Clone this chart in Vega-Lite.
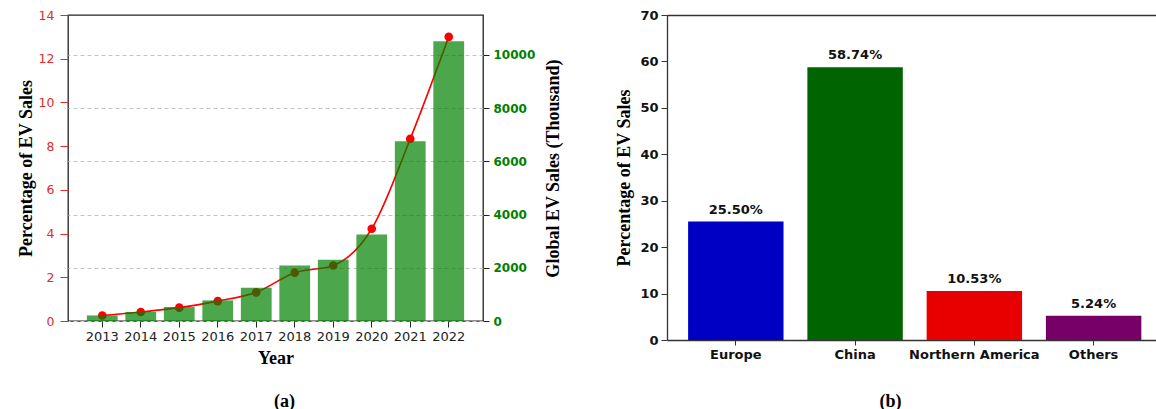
{
  "$schema": "https://vega.github.io/schema/vega-lite/v6.json",
  "background": "white",
  "padding": {"left": 16, "top": 8, "right": 0, "bottom": 0},
  "spacing": 51,
  "config": {
    "view": {"stroke": "#222222", "strokeWidth": 1.3},
    "axis": {"labelFont": "DejaVu Sans", "titleFont": "Liberation Serif", "titleFontWeight": "bold", "titleFontSize": 18, "titleColor": "black", "domain": false, "grid": false},
    "title": {"font": "Liberation Serif", "fontWeight": "bold", "fontSize": 18, "color": "black"}
  },
  "datasets": {
    "years": [
      {"Year": "2013", "Pct": 0.25, "Sales": 210},
      {"Year": "2014", "Pct": 0.41, "Sales": 340},
      {"Year": "2015", "Pct": 0.61, "Sales": 525},
      {"Year": "2016", "Pct": 0.91, "Sales": 775},
      {"Year": "2017", "Pct": 1.31, "Sales": 1250},
      {"Year": "2018", "Pct": 2.21, "Sales": 2090},
      {"Year": "2019", "Pct": 2.54, "Sales": 2300},
      {"Year": "2020", "Pct": 4.22, "Sales": 3250},
      {"Year": "2021", "Pct": 8.33, "Sales": 6760},
      {"Year": "2022", "Pct": 13.0, "Sales": 10515}
    ],
    "regions": [
      {"Region": "Europe", "Share": 25.50, "Label": "25.50%"},
      {"Region": "China", "Share": 58.74, "Label": "58.74%"},
      {"Region": "Northern America", "Share": 10.53, "Label": "10.53%"},
      {"Region": "Others", "Share": 5.24, "Label": "5.24%"}
    ]
  },
  "hconcat": [
    {
      "width": 415,
      "height": 306,
      "data": {"name": "years"},
      "title": {"text": "(a)", "orient": "bottom", "anchor": "middle", "dx": 9, "offset": 26},
      "layer": [
        {
          "mark": {"type": "line", "color": "red", "strokeWidth": 1.6, "interpolate": "monotone", "point": {"filled": true, "color": "red", "size": 75}},
          "encoding": {
            "x": {"field": "Year", "type": "ordinal", "scale": {"paddingInner": 0.2, "paddingOuter": 0.49},
                  "axis": {"title": "Year", "labelAngle": 0, "labelFontSize": 13, "labelColor": "#222222", "tickSize": 6, "tickColor": "#222222", "labelPadding": 3, "titlePadding": 6}},
            "y": {"field": "Pct", "type": "quantitative", "scale": {"domain": [0, 14], "nice": false},
                  "axis": {"orient": "left", "title": "Percentage of EV Sales", "values": [0, 2, 4, 6, 8, 10, 12, 14], "labelColor": "#e02b2b", "labelFontSize": 12.5, "tickColor": "#e02b2b", "tickSize": 8, "labelPadding": 6, "titlePadding": 3}}
          }
        },
        {
          "mark": {"type": "bar", "color": "green", "opacity": 0.7},
          "encoding": {
            "x": {"field": "Year", "type": "ordinal"},
            "y": {"field": "Sales", "type": "quantitative", "scale": {"domain": [0, 11500], "nice": false},
                  "axis": {"orient": "right", "title": "Global EV Sales (Thousand)", "titleAngle": 270, "titleBaseline": "top", "format": "d", "values": [0, 2000, 4000, 6000, 8000, 10000], "labelColor": "green", "labelFontWeight": "bold", "labelFontSize": 12, "tickColor": "#222222", "tickSize": 6, "labelPadding": 4, "titlePadding": 10,
                           "grid": true, "gridDash": [4, 3], "gridColor": "#c4c4c4", "gridWidth": 1}}
          }
        }
      ],
      "resolve": {"scale": {"y": "independent"}}
    },
    {
      "width": 489,
      "height": 325,
      "data": {"name": "regions"},
      "view": {"stroke": null},
      "title": {"text": "(b)", "orient": "bottom", "anchor": "middle", "dx": -21, "offset": 32},
      "layer": [
        {
          "mark": {"type": "bar"},
          "encoding": {
            "x": {"field": "Region", "type": "nominal", "sort": null, "scale": {"paddingInner": 0.2, "paddingOuter": 0.15, "align": 0.59},
                  "axis": {"title": null, "labelAngle": 0, "labelFontSize": 13, "labelFontWeight": "bold", "labelColor": "#111111", "tickSize": 5, "tickColor": "#333333", "labelPadding": 3, "domain": true, "domainColor": "#333333", "domainWidth": 1.3}},
            "y": {"field": "Share", "type": "quantitative", "scale": {"domain": [0, 70], "nice": false},
                  "axis": {"title": "Percentage of EV Sales", "values": [0, 10, 20, 30, 40, 50, 60, 70], "labelFontSize": 13, "labelFontWeight": "bold", "labelColor": "#111111", "tickSize": 6, "tickColor": "#333333", "labelPadding": 3, "titlePadding": 6, "domain": true, "domainColor": "#333333", "domainWidth": 1.3}},
            "color": {"field": "Region", "type": "nominal", "legend": null,
                      "scale": {"domain": ["Europe", "China", "Northern America", "Others"], "range": ["#0000c4", "#006400", "#e80000", "#760068"]}}
          }
        },
        {
          "mark": {"type": "text", "baseline": "bottom", "dy": -5, "font": "DejaVu Sans", "fontWeight": "bold", "fontSize": 13, "color": "#111111"},
          "encoding": {
            "x": {"field": "Region", "type": "nominal", "sort": null,
                  "axis": {"orient": "top", "title": null, "labels": false, "ticks": false, "domain": true, "domainColor": "#333333", "domainWidth": 1.3}},
            "y": {"field": "Share", "type": "quantitative"},
            "text": {"field": "Label"}
          }
        }
      ],
      "resolve": {"axis": {"x": "independent"}}
    }
  ]
}
